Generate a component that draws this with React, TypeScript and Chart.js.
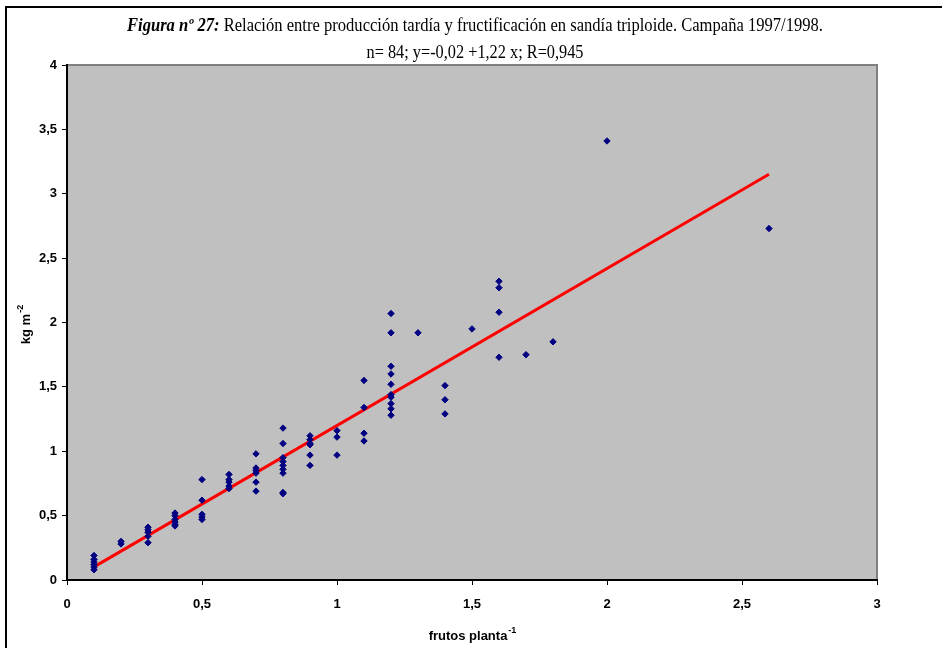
import React, { useEffect, useRef } from "react";
import { Chart, registerables } from "chart.js";

Chart.register(...registerables);

// Observed points: fruits per plant (x) and yield kg m-2 (y)
const fruitsX = [
  0.1, 0.1, 0.1, 0.1, 0.1, 0.1,
  0.2, 0.2,
  0.3, 0.3, 0.3, 0.3, 0.3,
  0.4, 0.4, 0.4, 0.4, 0.4, 0.4,
  0.5, 0.5, 0.5, 0.5, 0.5,
  0.6, 0.6, 0.6, 0.6, 0.6,
  0.7, 0.7, 0.7, 0.7, 0.7, 0.7,
  0.8, 0.8, 0.8, 0.8, 0.8, 0.8, 0.8, 0.8, 0.8,
  0.9, 0.9, 0.9, 0.9, 0.9, 0.9,
  1.0, 1.0, 1.0,
  1.1, 1.1, 1.1, 1.1,
  1.2, 1.2, 1.2, 1.2, 1.2, 1.2, 1.2, 1.2, 1.2, 1.2,
  1.3,
  1.4, 1.4, 1.4,
  1.5,
  1.6, 1.6, 1.6, 1.6,
  1.7,
  1.8,
  2.0,
  2.6,
];
const yieldY = [
  0.19, 0.16, 0.14, 0.12, 0.10, 0.08,
  0.30, 0.28,
  0.41, 0.39, 0.37, 0.34, 0.29,
  0.52, 0.50, 0.47, 0.45, 0.43, 0.42,
  0.78, 0.62, 0.51, 0.49, 0.47,
  0.82, 0.78, 0.76, 0.73, 0.71,
  0.98, 0.87, 0.85, 0.83, 0.76, 0.69,
  1.18, 1.06, 0.95, 0.92, 0.89, 0.86, 0.83, 0.68, 0.67,
  1.12, 1.09, 1.06, 1.05, 0.97, 0.89,
  1.16, 1.11, 0.97,
  1.55, 1.34, 1.14, 1.08,
  2.07, 1.92, 1.66, 1.60, 1.52, 1.44, 1.42, 1.37, 1.33, 1.28,
  1.92,
  1.51, 1.40, 1.29,
  1.95,
  2.32, 2.27, 2.08, 1.73,
  1.75,
  1.85,
  3.41,
  2.73,
];

// Regression line from the title: y = -0,02 + 1,22 x
const trendX = [0.1, 2.6];
const trendIntercept = -0.02;
const trendSlope = 1.22;

const titleBold = "Figura nº 27:";
const titleRest = " Relación entre producción tardía y fructificación en sandía triploide. Campaña 1997/1998.";
const subtitle = "n= 84; y=-0,02 +1,22 x; R=0,945";
const xTitle = "frutos planta";
const xTitleSup = "-1";
const yTitle = "kg m";
const yTitleSup = "-2";

const fmt = (v: number) => String(v).replace(".", ",");

const decorPlugin = {
  id: "decor",
  beforeDraw(chart: any) {
    const { ctx, chartArea: a } = chart;
    ctx.save();
    ctx.fillStyle = "#ffffff";
    ctx.fillRect(0, 0, chart.width, chart.height);
    ctx.fillStyle = "#C0C0C0";
    ctx.fillRect(a.left, a.top, a.right - a.left, a.bottom - a.top);
    ctx.strokeStyle = "#808080";
    ctx.lineWidth = 2;
    ctx.beginPath();
    ctx.moveTo(a.left, a.top);
    ctx.lineTo(a.right, a.top);
    ctx.lineTo(a.right, a.bottom);
    ctx.stroke();
    // outer frame
    ctx.strokeStyle = "#000";
    ctx.lineWidth = 2;
    ctx.beginPath();
    ctx.moveTo(6, chart.height + 2);
    ctx.lineTo(6, 7);
    ctx.lineTo(chart.width + 2, 7);
    ctx.stroke();
    ctx.restore();
  },
  afterDraw(chart: any) {
    const { ctx } = chart;
    ctx.save();
    ctx.fillStyle = "#000";
    ctx.textBaseline = "alphabetic";
    ctx.textAlign = "left";
    // Title line 1
    const fb = 'bold italic 18px "Liberation Serif"';
    const fn = '18px "Liberation Serif"';
    ctx.font = fb;
    const w1 = ctx.measureText(titleBold).width;
    ctx.font = fn;
    const w2 = ctx.measureText(titleRest).width;
    const target1 = 696;
    const sx1 = target1 / (w1 + w2);
    const cx = 475;
    ctx.save();
    ctx.translate(cx - target1 / 2, 31);
    ctx.scale(sx1, 1);
    ctx.font = fb;
    ctx.fillText(titleBold, 0, 0);
    ctx.font = fn;
    ctx.fillText(titleRest, w1, 0);
    ctx.restore();
    // Title line 2
    ctx.font = fn;
    const w3 = ctx.measureText(subtitle).width;
    const target2 = 217;
    ctx.save();
    ctx.translate(cx - target2 / 2, 58);
    ctx.scale(target2 / w3, 1);
    ctx.fillText(subtitle, 0, 0);
    ctx.restore();

    // X axis title
    const af = 'bold 13px "Liberation Sans"';
    const sf = 'bold 9px "Liberation Sans"';
    ctx.font = af;
    const xw = ctx.measureText(xTitle).width;
    ctx.font = sf;
    const xsw = ctx.measureText(xTitleSup).width;
    const xStart = 472 - (xw + xsw) / 2;
    ctx.font = af;
    ctx.fillText(xTitle, xStart, 640);
    ctx.font = sf;
    ctx.fillText(xTitleSup, xStart + xw + 1, 633);

    // Y axis title
    ctx.save();
    ctx.translate(30, 325);
    ctx.rotate(-Math.PI / 2);
    ctx.font = af;
    const yw = ctx.measureText(yTitle).width;
    ctx.font = sf;
    const ysw = ctx.measureText(yTitleSup).width;
    const yStart = -(yw + ysw) / 2;
    ctx.font = af;
    ctx.fillText(yTitle, yStart, 0);
    ctx.font = sf;
    ctx.fillText(yTitleSup, yStart + yw + 1, -7);
    ctx.restore();
    ctx.restore();
  },
};

export default function App() {
  const ref = useRef<HTMLCanvasElement>(null);
  useEffect(() => {
    if (!ref.current) return;
    const points = fruitsX.map((x, i) => ({ x, y: yieldY[i] }));
    const trend = trendX.map((x) => ({ x, y: trendIntercept + trendSlope * x }));
    const tickFont = { family: '"Liberation Sans"', size: 13, weight: "bold" as const };
    const chart = new Chart(ref.current, {
      type: "scatter",
      data: {
        datasets: [
          {
            type: "line",
            data: trend,
            borderColor: "#FF0000",
            borderWidth: 3,
            pointRadius: 0,
            fill: false,
            order: 2,
          } as any,
          {
            data: points,
            pointStyle: "rectRot",
            pointRadius: 3.2,
            backgroundColor: "#000080",
            borderColor: "#000080",
            borderWidth: 1,
            order: 1,
          },
        ],
      },
      plugins: [decorPlugin],
      options: {
        responsive: false,
        animation: false,
        devicePixelRatio: 1,
        layout: { padding: { left: 0, top: 65, right: 65, bottom: 0 } },
        plugins: {
          legend: { display: false },
          title: { display: false },
          tooltip: { enabled: false },
        },
        scales: {
          x: {
            type: "linear",
            min: 0,
            max: 3,
            afterFit: (s: any) => {
              s.height = 68;
            },
            ticks: {
              stepSize: 0.5,
              color: "#000",
              font: tickFont,
              padding: 12,
              maxRotation: 0,
              callback: (v: any) => fmt(Number(v)),
            },
            grid: {
              drawOnChartArea: false,
              drawTicks: true,
              tickLength: 5,
              color: "#000",
            },
            border: { color: "#000", width: 2 },
          },
          y: {
            type: "linear",
            min: 0,
            max: 4,
            afterFit: (s: any) => {
              s.width = 67;
            },
            ticks: {
              stepSize: 0.5,
              color: "#000",
              font: tickFont,
              padding: 5,
              callback: (v: any) => fmt(Number(v)),
            },
            grid: {
              drawOnChartArea: false,
              drawTicks: true,
              tickLength: 5,
              color: "#000",
            },
            border: { color: "#000", width: 2 },
          },
        },
      },
    });
    return () => chart.destroy();
  }, []);
  return (
    <div style={{ position: "absolute", left: 0, top: 0, width: 942, height: 648, background: "#fff" }}>
      <canvas ref={ref} width={942} height={648} style={{ display: "block" }} />
    </div>
  );
}
